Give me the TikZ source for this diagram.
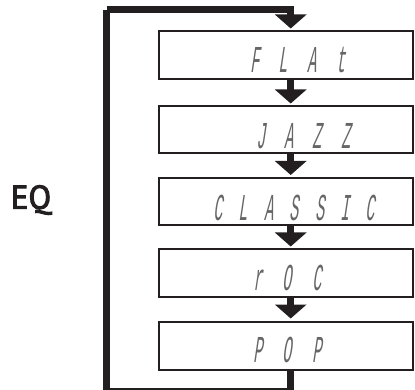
\documentclass[tikz,border=0pt]{standalone}
\usepackage{fontspec}
\usetikzlibrary{arrows.meta,calc}
\newfontfamily\lcdfont[FakeStretch=0.4,FakeSlant=0.15]{Liberation Mono}
\newfontfamily\eqfont[FakeBold=3]{PT Sans}
\definecolor{ink}{HTML}{231F20}
\newcommand\lcdls[1]{\lcdfont\addfontfeature{LetterSpace=#1}\fontsize{38}{38}\selectfont}
\begin{document}
\begin{tikzpicture}[x=1pt,y=-1pt,
  lcdbox/.style={draw=ink,line width=2pt,minimum width=253.5pt,inner sep=0pt},
  lcdtext/.style={text=black!60,inner sep=0pt,anchor=west},
  flowarrow/.style={draw=ink,line width=7pt,-{Triangle[width=31pt,length=14pt]}},
  loopline/.style={draw=ink,line width=6.5pt,line join=miter}]
\useasboundingbox (0,0) rectangle (415,390);
\clip (0,0) rectangle (415,390);
\node[lcdbox,minimum height=48pt] (b1) at (285.75,55.5) {};
\node[lcdbox,minimum height=47pt] (b2) at (285.75,130) {};
\node[lcdbox,minimum height=47.5pt] (b3) at (285.75,201.75) {};
\node[lcdbox,minimum height=47.5pt] (b4) at (285.75,273.25) {};
\node[lcdbox,minimum height=48pt] (b5) at (285.75,345.5) {};
\node[lcdtext,font=\lcdls{51.5}] (t1) at (250,60) {FLAt};
\node[lcdtext,font=\lcdls{50.5}] (t2) at (256,136) {JAZZ};
\node[lcdtext,font=\lcdls{43}] (t3) at (213,207.5) {CLASSIC};
\node[lcdtext,font=\lcdls{53.6}] (t4) at (253,277.5) {rOC};
\node[lcdtext,font=\lcdls{53.6}] (t5) at (253,350) {POP};
\node[text=ink,font=\eqfont\fontsize{33}{33}\selectfont,inner sep=0pt] (eq) at (31,200) {EQ};
\coordinate (ax) at (290.7,0);
\coordinate (bl) at (106.7,391);
\coordinate (tl) at (106.7,9.7);
\draw[flowarrow,shorten >=2pt] (b1.south -| ax) -- (b2.north -| ax);
\draw[flowarrow,shorten >=2pt] (b2.south -| ax) -- (b3.north -| ax);
\draw[flowarrow,shorten >=2pt] (b3.south -| ax) -- (b4.north -| ax);
\draw[flowarrow,shorten >=2pt] (b4.south -| ax) -- (b5.north -| ax);
\draw[loopline] (b5.south -| ax) |- (bl) -- (tl);
\draw[flowarrow,line width=6.5pt,line join=miter,shorten >=2pt] (tl) -| (b1.north -| ax);
\end{tikzpicture}
\end{document}
